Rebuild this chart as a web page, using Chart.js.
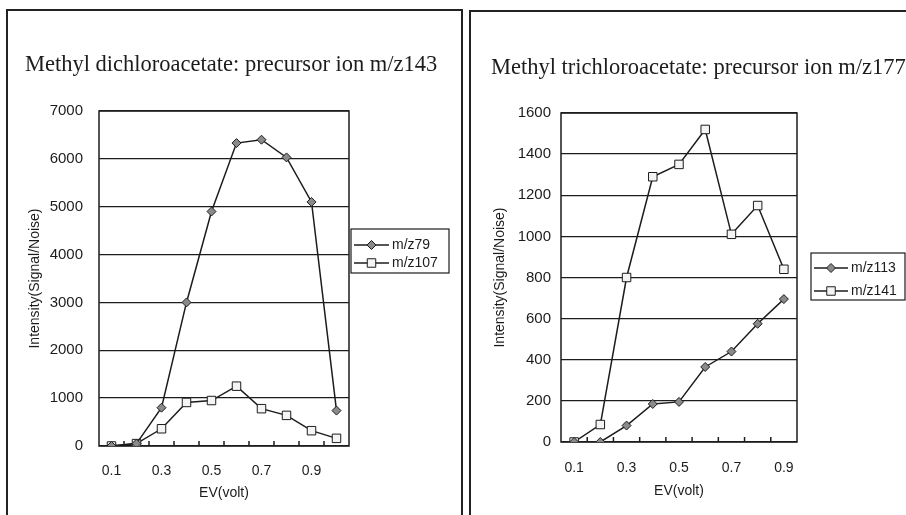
<!DOCTYPE html>
<html>
<head>
<meta charset="utf-8">
<script src="https://cdn.jsdelivr.net/npm/chart.js@4.4.1/dist/chart.umd.min.js"></script>
<style>
  html, body { margin: 0; padding: 0; background: #fff; }
  body { width: 906px; height: 515px; position: relative; overflow: hidden; }
  canvas { position: absolute; top: 0; }
  #dichloro { left: 0; }
  #trichloro { left: 466px; }
  .frame { position: absolute; border: 2px solid #222; border-bottom: none; }
</style>
</head>
<body>
<div class="frame" style="left:6px;top:9px;width:453px;height:520px"></div>
<div class="frame" style="left:469px;top:10px;width:450px;height:520px"></div>
<canvas id="dichloro" width="466" height="515"></canvas>
<canvas id="trichloro" width="440" height="515"></canvas>
<script>
  // collision energy steps (volt)
  const dichloroEV = ['0.1', '0.2', '0.3', '0.4', '0.5', '0.6', '0.7', '0.8', '0.9', '1.0'];
  const trichloroEV = ['0.1', '0.2', '0.3', '0.4', '0.5', '0.6', '0.7', '0.8', '0.9'];

  // product ion S/N, methyl dichloroacetate (precursor m/z143)
  const mz79 = [0, 50, 800, 3000, 4900, 6330, 6400, 6030, 5100, 740];
  const mz107 = [0, 50, 360, 910, 950, 1250, 780, 640, 320, 160];

  // product ion S/N, methyl trichloroacetate (precursor m/z177)
  const mz113 = [0, 0, 80, 185, 195, 365, 440, 575, 695];
  const mz141 = [0, 85, 800, 1290, 1350, 1520, 1010, 1150, 840];

  const INK = '#1c1c1c';
  const SANS = '"Liberation Sans", Arial, sans-serif';
  const SERIF = '"Liberation Serif", "Times New Roman", serif';

  // heading written at full width (the stock title squeezes it into the plot width)
  const headline = {
    id: 'headline',
    afterDraw (chart, args, opts) {
      const { ctx } = chart;
      ctx.save();
      ctx.font = '22.5px ' + SERIF;
      ctx.fillStyle = INK;
      ctx.textAlign = 'left';
      ctx.textBaseline = 'middle';
      ctx.fillText(opts.text, opts.x, opts.y);
      ctx.restore();
    }
  };

  // plot frame plus the small inward ticks between categories
  const frameTicks = {
    id: 'frameTicks',
    beforeDatasetsDraw (chart) {
      const { ctx, chartArea: a } = chart;
      const xs = chart.scales.x;
      const n = xs.getLabels().length;
      ctx.save();
      ctx.strokeStyle = INK;
      ctx.lineWidth = 1.5;
      ctx.strokeRect(a.left, a.top, a.right - a.left, a.bottom - a.top);
      ctx.beginPath();
      for (let i = 1; i < n; i++) {
        const x = a.left + (i * (a.right - a.left)) / n;
        ctx.moveTo(x, a.bottom);
        ctx.lineTo(x, a.bottom - 5);
      }
      ctx.stroke();
      ctx.restore();
    }
  };

  // boxed legend sitting to the right of the plot
  const boxLegend = {
    id: 'boxLegend',
    afterDraw (chart, args, opts) {
      const { ctx } = chart;
      ctx.save();
      ctx.strokeStyle = INK;
      ctx.lineWidth = 1.2;
      ctx.strokeRect(opts.x, opts.y, opts.w, opts.h);
      ctx.font = '14px ' + SANS;
      ctx.textBaseline = 'middle';
      ctx.fillStyle = INK;
      chart.data.datasets.forEach((ds, i) => {
        const y = opts.y + opts.first + i * opts.pitch;
        const x0 = opts.x + 3;
        const x1 = x0 + opts.sample;
        const xm = (x0 + x1) / 2;
        ctx.lineWidth = 1.3;
        ctx.beginPath();
        ctx.moveTo(x0, y);
        ctx.lineTo(x1, y);
        ctx.stroke();
        ctx.beginPath();
        const r = ds.pointRadius;
        if (ds.pointStyle === 'rectRot') {
          ctx.moveTo(xm, y - r); ctx.lineTo(xm + r, y); ctx.lineTo(xm, y + r); ctx.lineTo(xm - r, y);
        } else {
          const s = r * Math.SQRT1_2;
          ctx.rect(xm - s, y - s, 2 * s, 2 * s);
        }
        ctx.closePath();
        ctx.fillStyle = ds.pointBackgroundColor;
        ctx.fill();
        ctx.lineWidth = 1;
        ctx.stroke();
        ctx.fillStyle = INK;
        ctx.fillText(ds.label, x1 + 3, y);
      });
      ctx.restore();
    }
  };

  function series (label, data, style) {
    const diamond = style === 'rectRot';
    return {
      label,
      data,
      borderColor: INK,
      borderWidth: 1.5,
      pointStyle: style,
      pointRadius: diamond ? 4.5 : 6,
      pointBackgroundColor: diamond ? '#8a8a8a' : '#f4f4f4',
      pointBorderColor: INK,
      pointBorderWidth: 1,
      tension: 0
    };
  }

  function makeChart (id, cfg) {
    return new Chart(document.getElementById(id), {
      type: 'line',
      data: { labels: cfg.labels, datasets: cfg.datasets },
      plugins: [frameTicks, boxLegend, headline],
      options: {
        responsive: false,
        animation: false,
        devicePixelRatio: 1,
        layout: { padding: { left: 25, right: cfg.padRight, top: cfg.padTop, bottom: 0 } },
        plugins: {
          legend: { display: false },
          tooltip: { enabled: false },
          title: { display: false },
          headline: cfg.heading,
          boxLegend: cfg.legend
        },
        scales: {
          x: {
            offset: true,
            grid: { display: false, offset: true },
            border: { display: false },
            afterFit: s => { s.height = cfg.xHeight; },
            ticks: {
              autoSkip: false,
              maxRotation: 0,
              padding: cfg.xTickPad,
              color: INK,
              font: { family: SANS, size: 14 },
              callback: (v, i) => (i % 2 === 0 ? cfg.labels[i] : '')
            },
            title: {
              display: true,
              text: 'EV(volt)',
              color: INK,
              font: { family: SANS, size: 14, lineHeight: 1.2 },
              padding: { top: 0, bottom: cfg.xTitlePad }
            }
          },
          y: {
            min: 0,
            max: cfg.yMax,
            afterFit: s => { s.width = cfg.yWidth; },
            grid: { color: INK, lineWidth: 1.3, drawTicks: false },
            border: { display: false },
            ticks: {
              stepSize: cfg.yStep,
              padding: cfg.yTickPad,
              color: INK,
              font: { family: SANS, size: 15 },
              callback: v => String(v)
            },
            title: {
              display: true,
              text: 'Intensity(Signal/Noise)',
              color: INK,
              font: { family: SANS, size: 14, lineHeight: 1.2 },
              padding: { top: cfg.yTitlePad, bottom: 0 }
            }
          }
        }
      }
    });
  }

  makeChart('dichloro', {
    heading: { text: 'Methyl dichloroacetate: precursor ion m/z143', x: 25, y: 65 },
    labels: dichloroEV,
    datasets: [series('m/z79', mz79, 'rectRot'), series('m/z107', mz107, 'rect')],
    padTop: 111,
    padRight: 117,
    xHeight: 69,
    xTickPad: 9,
    xTitlePad: 13,
    yMax: 7000,
    yStep: 1000,
    yWidth: 74,
    yTickPad: 16,
    yTitlePad: 2,
    legend: { x: 351, y: 229, w: 98, h: 44, first: 16, pitch: 18, sample: 35 }
  });

  makeChart('trichloro', {
    heading: { text: 'Methyl trichloroacetate: precursor ion m/z177', x: 25, y: 68 },
    labels: trichloroEV,
    datasets: [series('m/z113', mz113, 'rectRot'), series('m/z141', mz141, 'rect')],
    padTop: 113,
    padRight: 109,
    xHeight: 73,
    xTickPad: 10,
    xTitlePad: 15,
    yMax: 1600,
    yStep: 200,
    yWidth: 70,
    yTickPad: 10,
    yTitlePad: 1,
    legend: { x: 345, y: 253, w: 94, h: 47, first: 15, pitch: 23, sample: 34 }
  });
</script>
</body>
</html>
